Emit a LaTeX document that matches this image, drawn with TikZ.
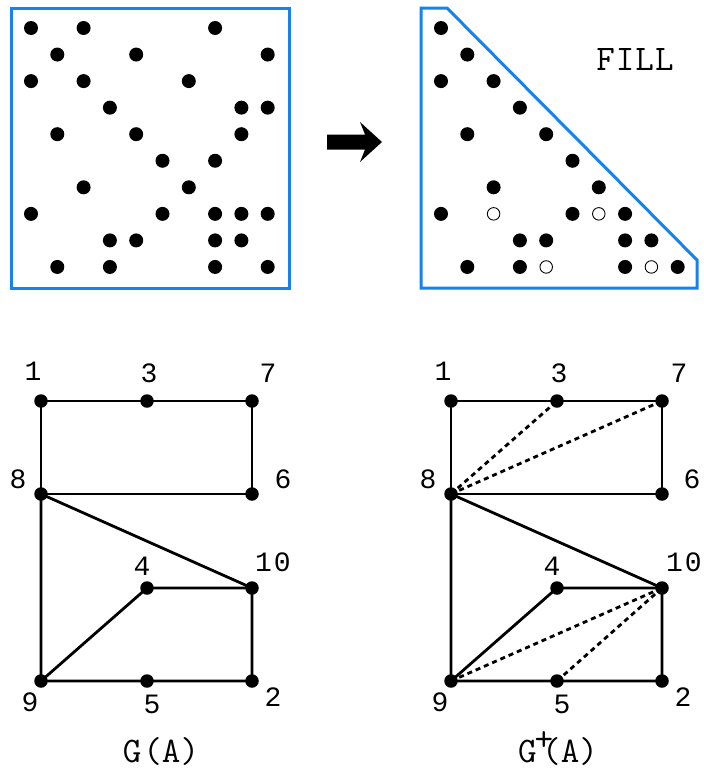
\documentclass[tikz,border=0pt]{standalone}
\usepackage{fontspec}
\newfontfamily\digitfont{Liberation Mono}
\definecolor{boxblue}{RGB}{22,130,240}
\begin{document}
\begin{tikzpicture}[x=1pt,y=-1pt,
  mdot/.style={circle,fill=black,inner sep=0pt,minimum size=14pt},
  odot/.style={circle,draw=black,line width=0.9pt,fill=white,inner sep=0pt,minimum size=12.5pt},
  vtx/.style={circle,fill=black,inner sep=0pt,minimum size=13.5pt},
  gedge/.style={line width=2.8pt},
  fedge/.style={line width=2.8pt,dash pattern=on 5pt off 4pt},
  lab/.style={font=\digitfont\fontsize{28}{28}\selectfont,inner sep=0pt},
  captxt/.style={font=\ttfamily\fontsize{36}{36}\selectfont,inner sep=0pt},
  mbox/.style={draw=boxblue,line width=3pt}]
\useasboundingbox (0,0) rectangle (704,774);

% ---------- left matrix ----------
\draw[mbox] (11,8) rectangle (289,288);
\foreach \r/\c in {1/1,1/3,1/8,2/2,2/5,2/10,3/1,3/3,3/7,4/4,4/9,4/10,5/2,5/5,5/9,
                   6/6,6/8,7/3,7/7,8/1,8/6,8/8,8/9,8/10,9/4,9/5,9/8,9/9,10/2,10/4,10/8,10/10}
  \node[mdot] (L\r-\c) at ({31+(\c-1)*26.3},{28+(\r-1)*26.55}) {};

% ---------- arrow ----------
\fill (327,134.5) -- (365,134.5) -- (360,122) -- (382,142) -- (360,162) -- (365,149.5) -- (327,149.5) -- cycle;

% ---------- right matrix ----------
\draw[mbox] (421,8) -- (447,8) -- (697,260) -- (697,288) -- (421,288) -- cycle;
\foreach \r/\c in {1/1,2/2,3/1,3/3,4/4,5/2,5/5,6/6,7/3,7/7,8/1,8/6,8/8,
                   9/4,9/5,9/8,9/9,10/2,10/4,10/8,10/10}
  \node[mdot] (R\r-\c) at ({441+(\c-1)*26.3},{28+(\r-1)*26.55}) {};
\foreach \r/\c in {8/3,8/7,10/5,10/9}
  \node[odot] (R\r-\c) at ({441+(\c-1)*26.3},{28+(\r-1)*26.55}) {};
\node[captxt] (fill) at (635,59) {F\kern1pt I\kern1pt L\kern1pt L};

% ---------- graph G(A) ----------
\node[vtx] (a1) at (41,401) {};
\node[vtx] (a3) at (147,401) {};
\node[vtx] (a7) at (252,401) {};
\node[vtx] (a8) at (41,494) {};
\node[vtx] (a6) at (252,494) {};
\node[vtx] (a4) at (147,588) {};
\node[vtx] (a10) at (252,588) {};
\node[vtx] (a9) at (41,681) {};
\node[vtx] (a5) at (147,681) {};
\node[vtx] (a2) at (252,681) {};
\draw[gedge] (a1.center) -- (a3.center) -- (a7.center) -- (a6.center) -- (a8.center) -- (a1.center);
\draw[gedge] (a8.center) -- (a10.center) -- (a2.center) -- (a5.center) -- (a9.center) -- (a8.center);
\draw[gedge] (a9.center) -- (a4.center) -- (a10.center);
\node[lab] (la1) at (33,371) {1};
\node[lab] (la3) at (149,373) {3};
\node[lab] (la7) at (268,373) {7};
\node[lab] (la8) at (18,479) {8};
\node[lab] (la6) at (283,479) {6};
\node[lab] (la4) at (142,566) {4};
\node[lab] (la10) at (273,562) {1\kern2pt 0};
\node[lab] (la9) at (30,702) {9};
\node[lab] (la5) at (152,704) {5};
\node[lab] (la2) at (273,697) {2};
\node[captxt,anchor=base] (ga) at (161,762) {G\kern2pt(A)};

% ---------- graph G+(A) ----------
\node[vtx] (b1) at (451,401) {};
\node[vtx] (b3) at (557,401) {};
\node[vtx] (b7) at (662,401) {};
\node[vtx] (b8) at (451,494) {};
\node[vtx] (b6) at (662,494) {};
\node[vtx] (b4) at (557,588) {};
\node[vtx] (b10) at (662,588) {};
\node[vtx] (b9) at (451,681) {};
\node[vtx] (b5) at (557,681) {};
\node[vtx] (b2) at (662,681) {};
\draw[gedge] (b1.center) -- (b3.center) -- (b7.center) -- (b6.center) -- (b8.center) -- (b1.center);
\draw[gedge] (b8.center) -- (b10.center) -- (b2.center) -- (b5.center) -- (b9.center) -- (b8.center);
\draw[gedge] (b9.center) -- (b4.center) -- (b10.center);
\draw[fedge] (b8.center) -- (b3.center);
\draw[fedge] (b8.center) -- (b7.center);
\draw[fedge] (b9.center) -- (b10.center);
\draw[fedge] (b5.center) -- (b10.center);
\node[lab] (lb1) at (443,371) {1};
\node[lab] (lb3) at (559,373) {3};
\node[lab] (lb7) at (679,373) {7};
\node[lab] (lb8) at (428,479) {8};
\node[lab] (lb6) at (692,479) {6};
\node[lab] (lb4) at (552,566) {4};
\node[lab] (lb10) at (684,562) {1\kern2pt 0};
\node[lab] (lb9) at (440,702) {9};
\node[lab] (lb5) at (562,704) {5};
\node[lab] (lb2) at (683,697) {2};
\node[captxt,anchor=base] (gb) at (558,762) {G\kern-2pt\raisebox{12pt}{+}\kern-11pt(A)};
\end{tikzpicture}
\end{document}
